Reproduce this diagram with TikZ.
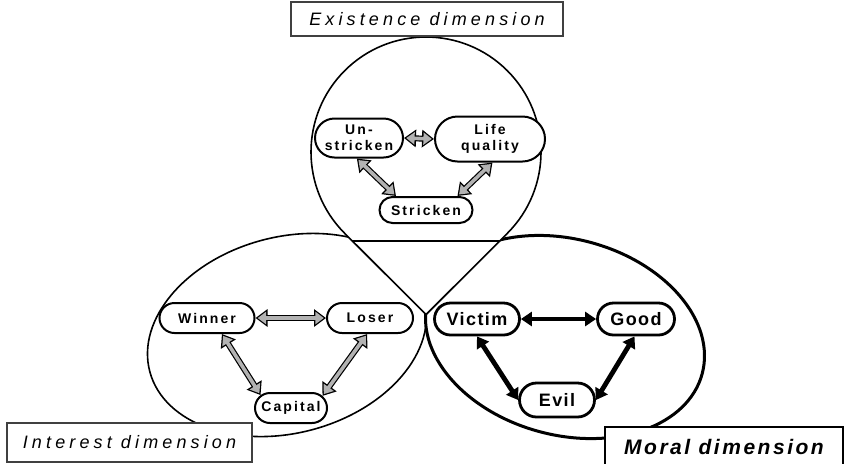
\documentclass[tikz,border=0pt]{standalone}
\usepackage{fontspec}
\setmainfont{Liberation Sans}
\newfontfamily\statefont[LetterSpace=15]{Liberation Sans}
\newfontfamily\moralfont[LetterSpace=8]{Liberation Sans}
\newfontfamily\labelfont[LetterSpace=12]{Liberation Sans}
\newfontfamily\dimfont[LetterSpace=23]{Liberation Sans}
\usepackage{tikz}
\usetikzlibrary{arrows.meta,shapes.misc,calc}

\tikzset{
  region/.style={line width=0.8pt,fill=white},
  state/.style={rounded rectangle,draw,fill=white,line width=1pt,inner sep=0pt,align=center,
    font=\statefont\bfseries\fontsize{7}{8.2}\selectfont},
  moralstate/.style={state,line width=1.4pt,font=\moralfont\bfseries\fontsize{9}{10.5}\selectfont},
  dimbox/.style={draw=black!75,line width=0.6pt,fill=white,inner sep=0pt,
    font=\dimfont\itshape\fontsize{9}{10.8}\selectfont},
  grayarrow/.style={line width=3pt,{Triangle[length=6pt,width=8.5pt]}-{Triangle[length=6pt,width=8.5pt]},
    postaction={draw=gray!60,line width=1.8pt,{Triangle[length=4.2pt,width=6pt]}-{Triangle[length=4.2pt,width=6pt]},
      shorten <=1.1pt,shorten >=1.1pt}},
  blackarrow/.style={line width=2.4pt,{Triangle[length=5.5pt,width=7pt]}-{Triangle[length=5.5pt,width=7pt]}}
}

\begin{document}
\begin{tikzpicture}[x=0.5pt,y=0.5pt]
  \useasboundingbox (0,0) rectangle (844,463);
  % lower regions
  \draw[region,rotate around={15:(287,128)}] (287,128) ellipse [x radius=142,y radius=98];
  \draw[region,line width=1.5pt,rotate around={-15:(565,126)}] (565,126) ellipse [x radius=142,y radius=98];
  % upper region (drop shape)
  \coordinate (ex) at (426,311);
  \coordinate (exL) at ($(ex)+(225:115)$);
  \coordinate (exR) at ($(ex)+(-45:115)$);
  \coordinate (tip) at (426,148.4);
  \fill[white] (ex) circle [radius=115];
  \fill[white] (exL) -- (tip) -- (exR) -- cycle;
  \draw[region,fill=none] (exL) arc [start angle=225,end angle=-45,radius=115] -- (tip) -- cycle;
  \coordinate (chL) at (352.4,222);
  \coordinate (chR) at (499.6,222);
  \draw[region] (chL) -- (chR);

  % existence
  \node[state,minimum width=44pt,minimum height=19.5pt] (unstr) at (359,325) {Un-\\stricken};
  \node[state,minimum width=55pt,minimum height=22.5pt] (life) at (490,324) {Life\\quality};
  \node[state,minimum width=46.5pt,minimum height=13pt] (stric) at (426,253) {Stricken};
  \draw[grayarrow] (unstr.east) -- (life.west);
  \draw[grayarrow] (unstr.-96) -- (stric.155);
  \draw[grayarrow] (life.-84) -- (stric.24);

  % interest
  \node[state,minimum width=47.5pt,minimum height=15pt] (winner) at (207,145) {Winner};
  \node[state,minimum width=43pt,minimum height=15pt] (loser) at (370,145) {Loser};
  \node[state,minimum width=36pt,minimum height=15pt] (capital) at (291,55) {Capital};
  \draw[grayarrow] (winner.east) -- (loser.west);
  \draw[grayarrow] (winner.-47) -- (capital.157);
  \draw[grayarrow] (loser.-100) -- (capital.21);

  % moral
  \node[moralstate,minimum width=42.5pt,minimum height=16pt] (victim) at (477,144) {Victim};
  \node[moralstate,minimum width=38.5pt,minimum height=16pt] (good) at (636,144) {Good};
  \node[moralstate,minimum width=37.5pt,minimum height=17pt] (evil) at (557,63) {Evil};
  \draw[blackarrow] (victim.east) -- (good.west);
  \draw[blackarrow] (victim.south) -- (evil.west);
  \draw[blackarrow] (good.-95) -- (evil.east);

  % dimension labels
  \node[dimbox,minimum width=136pt,minimum height=17pt] (exlabel) at (427,444) {Existence dimension};
  \node[dimbox,minimum width=122.5pt,minimum height=19.5pt] (inlabel) at (129.5,20.5) {Interest dimension};
  \node[dimbox,draw=black,minimum width=119pt,minimum height=20pt,font=\labelfont\bfseries\itshape\fontsize{10.5}{12.6}\selectfont]
    (molabel) at (724,16) {Moral dimension};
\end{tikzpicture}
\end{document}
